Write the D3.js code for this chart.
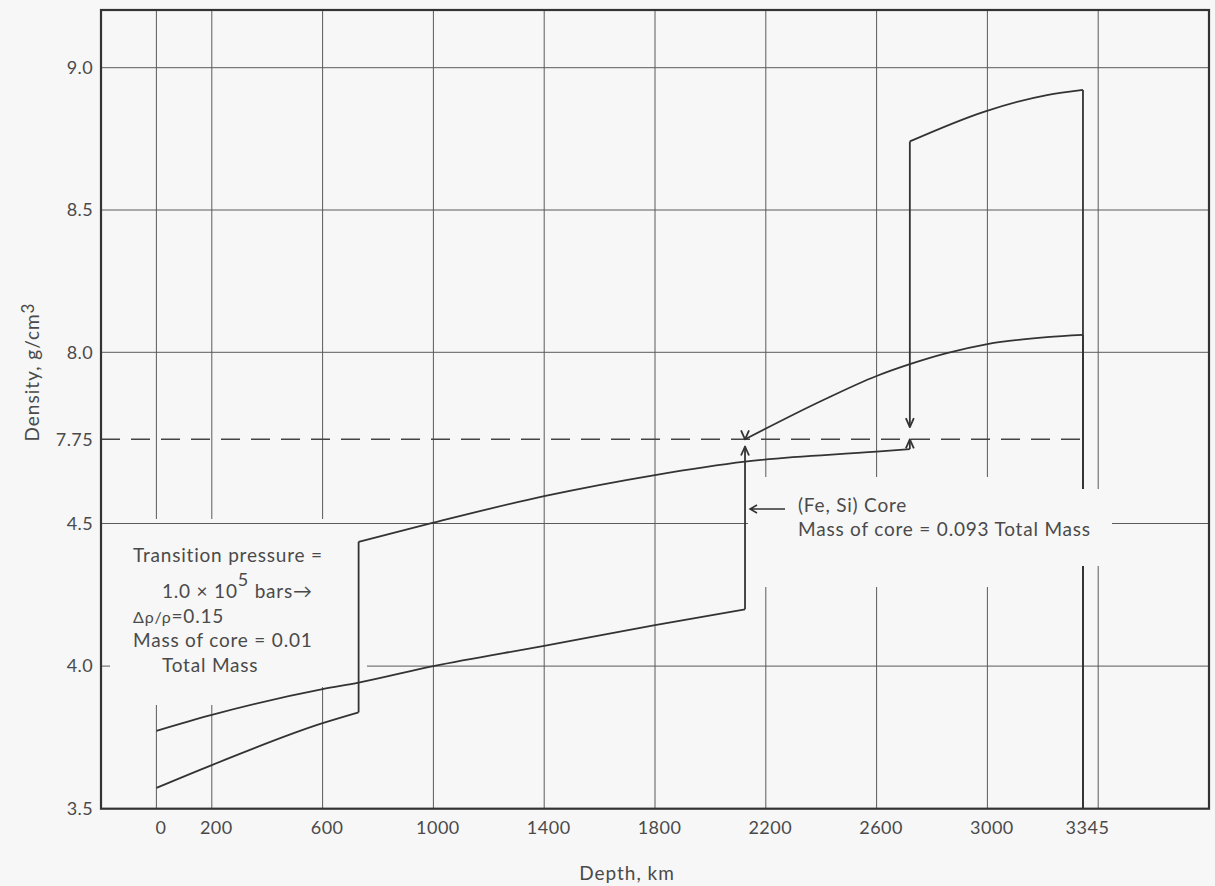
<!DOCTYPE html>
<html>
<head>
<meta charset="utf-8">
<script src="https://cdn.jsdelivr.net/npm/d3@7"></script>
<style>
  html, body { margin: 0; padding: 0; background: #f7f7f7; }
  svg { display: block; }
  text { font-family: "Lato", "Open Sans", sans-serif; fill: #4a4a4a; }
</style>
</head>
<body>
<script>
// ---- Axis ticks and grid ----
const depthTicks = [0, 200, 600, 1000, 1400, 1800, 2200, 2600, 3000, 3345];
const depthGrid = [0, 200, 600, 1000, 1400, 1800, 2200, 2600, 3000, 3400];
const densityTicks = [3.5, 4.0, 4.5, 7.75, 8.0, 8.5, 9.0];
const densityTickLabels = ["3.5", "4.0", "4.5", "7.75", "8.0", "8.5", "9.0"];
const densityGrid = [4.0, 4.5, 8.0, 8.5, 9.0];
const referenceDensity = 7.75;
const centerDepth = 3345;

// ---- Model with phase transition and small core (0.01 of total mass) ----
const m1UpperDepth = [0, 200, 600, 730];
const m1UpperDensity = [3.573, 3.653, 3.80, 3.838];
const m1LowerDepth = [730, 1000, 1400, 1800, 2125, 2600, 2720];
const m1LowerDensity = [4.436, 4.503, 4.596, 4.670, 4.717, 4.752, 4.761];
const m1CoreDepth = [2720, 2990, 3215, 3345];
const m1CoreDensity = [8.741, 8.846, 8.904, 8.922];

// ---- Model with (Fe, Si) core (0.093 of total mass) ----
const m2MantleDepth = [0, 200, 600, 730, 1000, 1400, 1800, 2125];
const m2MantleDensity = [3.773, 3.829, 3.919, 3.942, 4.0, 4.071, 4.144, 4.199];
const m2CoreDepth = [2125, 2400, 2600, 2720, 2850, 3000, 3215, 3345];
const m2CoreDensity = [7.75, 7.86, 7.932, 7.966, 7.997, 8.029, 8.053, 8.061];

// Jumps across the broken part of the density axis: [depth, from, to]
const breakJumps = [
  [2720, 4.761, 7.75],
  [2720, 8.741, 7.785],
  [2125, 4.199, 4.77]
];
const breakArrowOnly = [[2125, 7.75, "down"]];

const W = 1215, H = 886;
const svg = d3.select("body").append("svg").attr("width", W).attr("height", H);

// Depth scale and a broken density scale (gap between 4.77 and 7.75)
const x = d3.scaleLinear().domain([-200, 3800]).range([101, 1209]);
const y = d3.scaleLinear()
  .domain([3.5, 4.5, 4.77, 7.75, 8.0, 9.0])
  .range([808.7, 523.5, 446.5, 439.3, 352.3, 67.7]);

const plotLeft = x.range()[0], plotRight = x.range()[1];
const plotTop = 10, plotBottom = y(3.5);
const bg = "#f7f7f7";
const gridColor = "#5a5a5a";
const inkColor = "#333";
const textColor = "#4f4f4f";

// Vertical grid
svg.append("g").selectAll("line").data(depthGrid).join("line")
  .attr("x1", d => x(d)).attr("x2", d => x(d))
  .attr("y1", plotTop).attr("y2", plotBottom)
  .attr("stroke", gridColor).attr("stroke-width", 1);

// Clear space for the left-hand annotation block
const vMask = svg.append("g").attr("fill", bg);
vMask.append("rect").attr("x", 106).attr("y", 519).attr("width", 184).attr("height", 186);
vMask.append("rect").attr("x", 290).attr("y", 519).attr("width", 62).attr("height", 168);

// Horizontal grid
svg.append("g").selectAll("line").data(densityGrid).join("line")
  .attr("x1", plotLeft).attr("x2", plotRight)
  .attr("y1", d => y(d)).attr("y2", d => y(d))
  .attr("stroke", gridColor).attr("stroke-width", 1);

// Gap in the 4.0 grid line behind the annotation block
const hMask = svg.append("g").attr("fill", bg);
hMask.append("rect").attr("x", 110).attr("y", y(4.0) - 3).attr("width", 257).attr("height", 6);

// Reference density (dashed)
svg.append("line")
  .attr("x1", plotLeft).attr("x2", x(centerDepth))
  .attr("y1", y(referenceDensity)).attr("y2", y(referenceDensity))
  .attr("stroke", "#444").attr("stroke-width", 1.5)
  .attr("stroke-dasharray", "19,11");

// Curves
const line = d3.line().x(d => x(d[0])).y(d => y(d[1])).curve(d3.curveMonotoneX);
const zip = (a, b) => a.map((v, i) => [v, b[i]]);
const curves = svg.append("g").attr("fill", "none").attr("stroke", inkColor)
  .attr("stroke-width", 1.8).attr("stroke-linejoin", "round");

const pieces = [
  zip(m1UpperDepth, m1UpperDensity),
  zip(m1LowerDepth, m1LowerDensity),
  zip(m1CoreDepth, m1CoreDensity),
  zip(m2MantleDepth, m2MantleDensity),
  zip(m2CoreDepth, m2CoreDensity)
];
curves.selectAll("path.piece").data(pieces).join("path")
  .attr("class", "piece").attr("d", line);

// Phase transition step of the first model
const vert = (dep, a, b) => `M${x(dep)},${y(a)}L${x(dep)},${y(b)}`;
curves.append("path").attr("d", vert(m1UpperDepth[3], m1UpperDensity[3], m1LowerDensity[0]));

// Center of the planet: both profiles drop to the axis
curves.append("path").attr("d", vert(centerDepth, m1CoreDensity[3], 3.5));
curves.append("path").attr("d", vert(centerDepth, m2CoreDensity[7], 3.5));

// Jumps across the axis break, with arrowheads
const chevron = (px, py, dir) => {
  const s = dir === "up" ? 1 : -1;
  return `M${px - 4},${py + s * 9}L${px},${py}L${px + 4},${py + s * 9}`;
};
breakJumps.forEach(([dep, a, b]) => {
  curves.append("path").attr("d", vert(dep, a, b));
  curves.append("path").attr("d", chevron(x(dep), y(b), b > a ? "up" : "down"));
});
breakArrowOnly.forEach(([dep, v, dir]) => {
  curves.append("path").attr("d", chevron(x(dep), y(v), dir));
});

// Clear space for the core annotation
const rMask = svg.append("g").attr("fill", bg);
rMask.append("rect").attr("x", 748).attr("y", 477).attr("width", 326).attr("height", 110);
rMask.append("rect").attr("x", 1074).attr("y", 489).attr("width", 38).attr("height", 77);

// Axes labels
const yAxis = d3.axisLeft(y).tickValues(densityTicks)
  .tickFormat((d, i) => densityTickLabels[i]).tickSize(0).tickPadding(8);
const gy = svg.append("g").attr("transform", `translate(${plotLeft},0)`).call(yAxis);
gy.select(".domain").remove();
gy.attr("font-family", null);
gy.selectAll("text").attr("font-size", 18).attr("letter-spacing", 0.4).attr("fill", textColor);

const xAxis = d3.axisBottom(x).tickValues(depthTicks).tickFormat(d => String(d))
  .tickSize(0).tickPadding(13);
const gx = svg.append("g").attr("transform", `translate(0,${plotBottom})`).call(xAxis);
gx.select(".domain").remove();
gx.attr("font-family", null);
gx.selectAll("text").attr("font-size", 18).attr("letter-spacing", 0.5)
  .attr("x", 4).attr("fill", textColor);

svg.append("text").attr("x", 627).attr("y", 880).attr("text-anchor", "middle")
  .attr("font-size", 19).attr("letter-spacing", 1).attr("fill", textColor).text("Depth, km");

const yl = svg.append("text").attr("transform", "translate(39,372) rotate(-90)")
  .attr("text-anchor", "middle").attr("font-size", 19).attr("letter-spacing", 1)
  .attr("fill", textColor);
yl.append("tspan").text("Density, g/cm");
yl.append("tspan").attr("dy", -5).attr("font-size", 17).text("3");

// Annotation: first model
const ann = svg.append("g").attr("font-size", 19).attr("letter-spacing", 0.8)
  .attr("fill", textColor);
ann.append("text").attr("x", 133).attr("y", 562).text("Transition pressure =");
const t2 = ann.append("text").attr("x", 162).attr("y", 598);
t2.append("tspan").text("1.0 \u00d7 10");
t2.append("tspan").attr("dy", -12).attr("font-size", 18).text("5");
t2.append("tspan").attr("dy", 12).text(" bars\u2192");
const t3 = ann.append("text").attr("x", 133).attr("y", 623);
t3.append("tspan").attr("font-size", 16).text("\u0394\u03c1/\u03c1");
t3.append("tspan").text("=0.15");
ann.append("text").attr("x", 133).attr("y", 647).text("Mass of core = 0.01");
ann.append("text").attr("x", 162).attr("y", 672).text("Total Mass");

// Annotation: (Fe, Si) core
ann.append("text").attr("x", 798).attr("y", 512).text("(Fe, Si) Core");
ann.append("text").attr("x", 798).attr("y", 536).text("Mass of core = 0.093 Total Mass");
svg.append("path")
  .attr("d", `M${x(2125) + 5},509L785,509M${x(2125) + 12},505L${x(2125) + 5},509L${x(2125) + 12},513`)
  .attr("fill", "none").attr("stroke", inkColor).attr("stroke-width", 1.5);

// Frame
svg.append("rect").attr("x", plotLeft).attr("y", plotTop)
  .attr("width", plotRight - plotLeft).attr("height", plotBottom - plotTop)
  .attr("fill", "none").attr("stroke", inkColor).attr("stroke-width", 2.2);
</script>
</body>
</html>
